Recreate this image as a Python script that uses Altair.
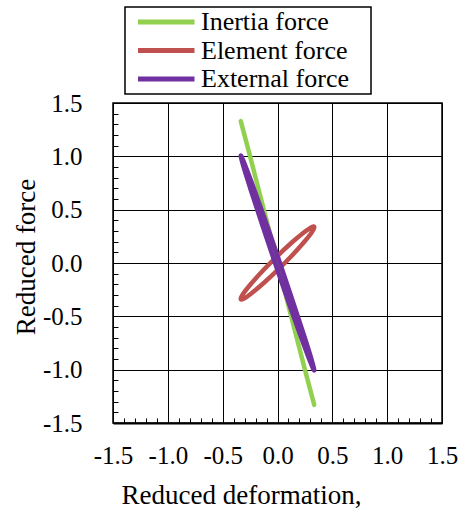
import altair as alt
import pandas as pd

series_names = ["Inertia force", "Element force", "External force"]
series_colors = ["#92D050", "#C0504D", "#7030A0"]

# Inertia force (nearly a straight line, traced down and back)
inertia_x = [-0.335, -0.25, -0.125, 0.0, 0.125, 0.25, 0.335, 0.25, 0.125, 0.0, -0.125, -0.25]
inertia_y = [1.33, 1.0, 0.5, 0.0, -0.5, -1.0, -1.33, -1.0, -0.5, 0.0, 0.5, 1.0]

# Element force loop
element_x = [0.335, 0.31, 0.237, 0.128, 0.0, -0.128, -0.237, -0.31,
             -0.335, -0.31, -0.237, -0.128, 0.0, 0.128, 0.237, 0.31]
element_y = [0.335, 0.284, 0.19, 0.066, -0.067, -0.19, -0.284, -0.336,
             -0.335, -0.284, -0.19, -0.066, 0.067, 0.19, 0.284, 0.336]

# External force loop
external_x = [0.335, 0.31, 0.237, 0.128, 0.0, -0.128, -0.237, -0.31,
              -0.335, -0.31, -0.237, -0.128, 0.0, 0.128, 0.237, 0.31]
external_y = [-1.005, -0.955, -0.758, -0.447, -0.067, 0.323, 0.664, 0.903,
              1.005, 0.955, 0.758, 0.447, 0.067, -0.323, -0.664, -0.903]

major_ticks = [-1.5, -1.0, -0.5, 0.0, 0.5, 1.0, 1.5]
minor_ticks = [-1.4, -1.3, -1.2, -1.1, -0.9, -0.8, -0.7, -0.6, -0.4, -0.3, -0.2, -0.1,
               0.1, 0.2, 0.3, 0.4, 0.6, 0.7, 0.8, 0.9, 1.1, 1.2, 1.3, 1.4]

rows = []
for name, xs, ys in zip(series_names,
                        [inertia_x, element_x, external_x],
                        [inertia_y, element_y, external_y]):
    for i, (a, b) in enumerate(zip(xs, ys)):
        rows.append({"series": name, "x": a, "y": b, "idx": i})
df = pd.DataFrame(rows)

FONT = "Liberation Serif"
label_expr = "(datum.value < 0 ? '-' : '') + format(abs(datum.value), '.1f')"

xscale = alt.Scale(domain=[-1.5, 1.5], nice=False, zero=False)
yscale = alt.Scale(domain=[-1.5, 1.5], nice=False, zero=False)

lines = alt.Chart(df).mark_line(
    strokeWidth=4.5, interpolate="cardinal-closed", strokeCap="round", strokeJoin="round"
).encode(
    x=alt.X("x:Q", scale=xscale, axis=alt.Axis(
        values=major_ticks, labelExpr=label_expr, grid=True, gridColor="black", gridWidth=1,
        ticks=False, tickSize=0, domain=True, domainColor="black", domainWidth=2,
        labelFont=FONT, labelFontSize=25, labelColor="black", labelPadding=20,
        labelOverlap=False, labelFlush=False,
        title="Reduced deformation,", titleFont=FONT, titleFontSize=27,
        titleFontWeight="normal", titleColor="black", titleX=128, titleY=80,
        titleBaseline="alphabetic", titleAlign="center")),
    y=alt.Y("y:Q", scale=yscale, axis=alt.Axis(
        values=major_ticks, labelExpr=label_expr, grid=True, gridColor="black", gridWidth=1,
        ticks=False, tickSize=0, domain=False,
        labelFont=FONT, labelFontSize=25, labelColor="black", labelPadding=31,
        labelOverlap=False, labelFlush=False,
        title="Reduced force", titleFont=FONT, titleFontSize=27,
        titleFontWeight="normal", titleColor="black", titleX=-79, titleY=153.5,
        titleAngle=270, titleBaseline="alphabetic", titleAlign="center")),
    color=alt.Color("series:N", scale=alt.Scale(domain=series_names, range=series_colors),
                    sort=series_names,
                    legend=alt.Legend(
                        title=None, orient="none", legendX=12, legendY=-96,
                        strokeColor="black", fillColor="white", padding=2, rowPadding=2.5,
                        labelFont=FONT, labelFontSize=26, labelColor="black",
                        labelOffset=48, labelLimit=400,
                        labelExpr="datum.label + '\u00a0\u00a0\u00a0\u200b'",
                        symbolType="M-0.4,0H10.9", symbolSize=100, symbolStrokeWidth=5)),
    order=alt.Order("idx:Q"),
)

minor = alt.Chart(df).mark_point(opacity=0).encode(
    x=alt.X("x:Q", scale=xscale, axis=alt.Axis(
        orient="bottom", offset=-5, values=minor_ticks, labels=False, domain=False,
        grid=False, ticks=True, tickSize=5, tickColor="black", tickWidth=1, title=None)),
    y=alt.Y("y:Q", scale=yscale, axis=alt.Axis(
        orient="left", offset=-5, values=minor_ticks, labels=False, domain=False,
        grid=False, ticks=True, tickSize=5, tickColor="black", tickWidth=1, title=None)),
)

chart = alt.layer(lines, minor).resolve_axis(x="independent", y="independent").properties(
    width=329, height=320,
    autosize=alt.AutoSizeParams(type="none"),
    padding={"left": 113, "top": 103, "right": 21, "bottom": 86},
    background="white",
).configure(font=FONT).configure_view(stroke="black", strokeWidth=1.5).configure_legend(
    strokeWidth=1.5, labelFont=FONT)

chart.save("out.html", embed_options={"renderer": "svg", "actions": False})
